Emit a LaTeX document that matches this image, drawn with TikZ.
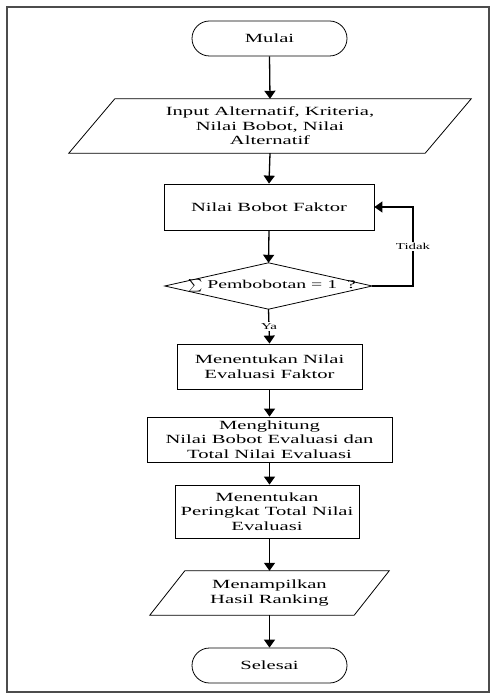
\documentclass[tikz,border=0pt]{standalone}
\usepackage{fontspec}
\setmainfont{Liberation Serif}[FakeStretch=1.65]
\usetikzlibrary{shapes.misc,arrows.meta}
\begin{document}
\begin{tikzpicture}[x=1pt,y=-1pt,
  txt/.style={align=center, inner sep=0pt, font=\fontsize{12.5}{14.5}\selectfont},
  box/.style={txt, draw, line width=0.8pt},
  term/.style={box, rounded rectangle, minimum width=155pt, minimum height=35pt},
  proc/.style={box, rectangle},
  edge/.style={line width=0.8pt, line join=miter},
  flow/.style={line width=1.3pt, -{Triangle[length=8pt,width=11pt]}},
  tag/.style={fill=white, inner sep=1.5pt, font=\fontsize{9}{10}\selectfont}
]
% page and frame
\useasboundingbox[fill=white] (0,0) rectangle (493,700);
\draw[black!70, line width=1.6pt] (7,7) rectangle (489,692);

% start
\node[term] (start) at (269.5,38.5) {Mulai};

% input parallelogram
\node[txt, minimum width=356pt, minimum height=54pt] (input) at (270,126)
  {Input Alternatif, Kriteria,\\Nilai Bobot, Nilai\\Alternatif};
\draw[edge] ([xshift=23pt]input.north west) -- ([xshift=23pt]input.north east)
  -- ([xshift=-23pt]input.south east) -- ([xshift=-23pt]input.south west) -- cycle;

% weighting step
\node[proc, minimum width=210pt, minimum height=46pt] (weight) at (269,207) {Nilai Bobot Faktor};

% decision
\node[inner sep=0pt, minimum width=207pt, minimum height=46pt] (check) at (268.5,286) {};
\draw[edge] (check.north) -- (check.east) -- (check.south) -- (check.west) -- cycle;
\node[txt, font=\fontsize{12}{14}\selectfont] (checktext) at (272,286)
  {\raisebox{-0.15ex}{\scalebox{1.35}[1.25]{$\sum$}} Pembobotan = 1\ \ ?};

% evaluation steps
\node[proc, minimum width=185pt, minimum height=45pt] (evalf) at (269.5,366.5)
  {Menentukan Nilai\\Evaluasi Faktor};
\node[proc, minimum width=245pt, minimum height=45pt] (total) at (269.5,439.5)
  {Menghitung\\Nilai Bobot Evaluasi dan\\Total Nilai Evaluasi};
\node[proc, minimum width=184pt, minimum height=53pt] (rank) at (267,511.5)
  {Menentukan\\Peringkat Total Nilai\\Evaluasi};

% output parallelogram
\node[txt, minimum width=204pt, minimum height=44pt] (show) at (269.5,593)
  {Menampilkan\\Hasil Ranking};
\draw[edge] ([xshift=17.5pt]show.north west) -- ([xshift=17.5pt]show.north east)
  -- ([xshift=-17.5pt]show.south east) -- ([xshift=-17.5pt]show.south west) -- cycle;

% end
\node[term] (end) at (269.5,665.5) {Selesai};

% connectors
\coordinate (loop) at (413,207);
\draw[flow] (start.south) -- (input.north);
\draw[flow] (input.south) -- (weight.north);
\draw[flow] (weight.south) -- (check.north);
\draw[flow] (check.south) -- node[tag] {Ya} (evalf.north);
\draw[flow] (check.east) -| node[tag, pos=0.75] {Tidak} (loop) -- (weight.east);
\draw[flow] (evalf.south) -- (total.north);
\draw[flow] (total.south) -- (total.south |- rank.north);
\draw[flow] (rank.south -| total.south) -- (show.north);
\draw[flow] (show.south) -- (end.north);
\end{tikzpicture}
\end{document}
